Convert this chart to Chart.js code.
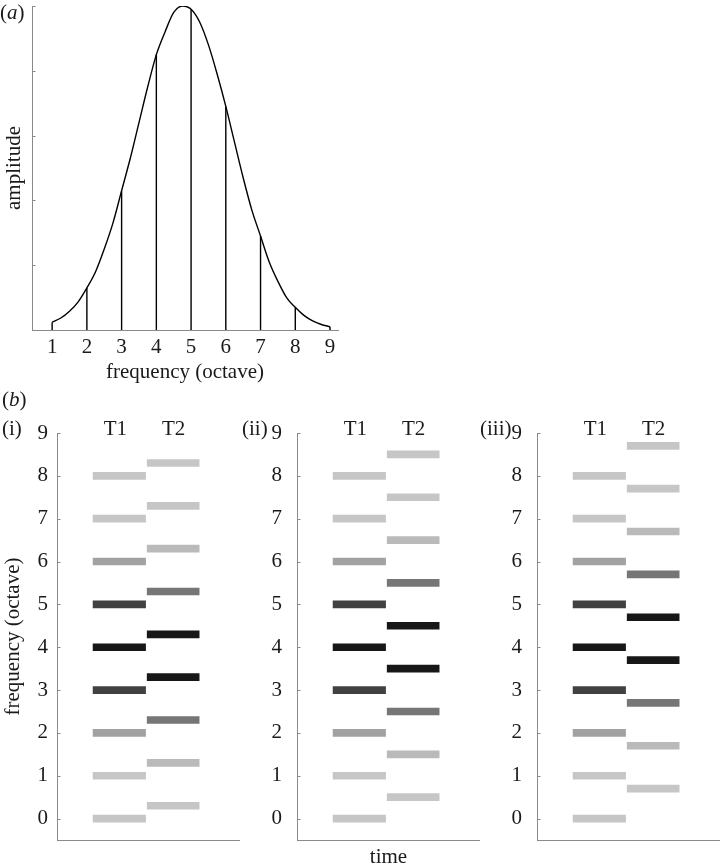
<!DOCTYPE html>
<html>
<head>
<meta charset="utf-8">
<script src="https://cdn.jsdelivr.net/npm/chart.js@4.4.1/dist/chart.umd.min.js"></script>
<style>
  body { margin: 0; background: #fff; }
  #wrap { position: relative; width: 720px; height: 868px; font-family: 'Liberation Serif', serif; color: #1a1a1a; }
  #wrap canvas { position: absolute; }
  .tag { position: absolute; font-size: 21px; line-height: 24px; white-space: nowrap; }
</style>
</head>
<body>
<div id="wrap">
  <canvas id="envelope" width="345" height="392" style="left:0;top:0"></canvas>
  <canvas id="panel1" width="240" height="468" style="left:0;top:400px"></canvas>
  <canvas id="panel2" width="240" height="468" style="left:240px;top:400px"></canvas>
  <canvas id="panel3" width="240" height="468" style="left:480px;top:400px"></canvas>
  <div class="tag" style="left:0;top:0">(<i>a</i>)</div>
  <div class="tag" style="left:2px;top:387px">(<i>b</i>)</div>
  <div class="tag" style="left:2px;top:416px">(i)</div>
  <div class="tag" style="left:242px;top:416px">(ii)</div>
  <div class="tag" style="left:480px;top:416px">(iii)</div>
</div>
<script>
// (a) spectral envelope
var curveFreq = [1, 1.25, 1.5, 1.75, 2, 2.25, 2.5, 2.75, 3, 3.25, 3.5, 3.75, 4, 4.25, 4.5, 4.75, 5,
                 5.25, 5.5, 5.75, 6, 6.25, 6.5, 6.75, 7, 7.25, 7.5, 7.75, 8, 8.25, 8.5, 8.75, 9];
var curveAmp = [0.024, 0.037, 0.058, 0.087, 0.13, 0.18, 0.25, 0.33, 0.43, 0.53, 0.64, 0.75, 0.85,
                0.92, 0.98, 1.0, 0.99, 0.95, 0.88, 0.79, 0.69, 0.58, 0.47, 0.37, 0.29, 0.21, 0.15,
                0.10, 0.07, 0.045, 0.028, 0.017, 0.01];
var stemFreq = [1, 2, 3, 4, 5, 6, 7, 8, 9];
var stemAmp = [0.024, 0.13, 0.43, 0.85, 0.99, 0.69, 0.29, 0.07, 0.01];
var freqTicks = [1, 2, 3, 4, 5, 6, 7, 8, 9];
var ampTicks = [0, 0.2, 0.4, 0.6, 0.8, 1];

// (b) tone components at T1 and T2 (octave)
var slotLabels = ['T1', 'T2'];
var t1Freq = [0, 1, 2, 3, 4, 5, 6, 7, 8];
var t2FreqI = [0.3, 1.3, 2.3, 3.3, 4.3, 5.3, 6.3, 7.3, 8.3];
var t2FreqII = [0.5, 1.5, 2.5, 3.5, 4.5, 5.5, 6.5, 7.5, 8.5];
var t2FreqIII = [0.7, 1.7, 2.7, 3.7, 4.7, 5.7, 6.7, 7.7, 8.7];
var octaveTicks = [0, 1, 2, 3, 4, 5, 6, 7, 8, 9];

// styles
var light = '#c6c6c6', light2 = '#bababa', mid = '#a2a2a2', midDark = '#767676', dark = '#414141', black = '#171717';
var t1Shade = [light, light, mid, dark, black, dark, mid, light, light];
var t2Shade = [light, light2, midDark, black, black, midDark, light2, light, light];
var slotSpan = [[0.68, 1.67], [1.7, 2.68]];
var slotLabelX = [1.1, 2.2];
var axisGrey = '#8a8a8a';
var ink = '#1a1a1a';

Chart.defaults.font.family = "'Liberation Serif', serif";
Chart.defaults.font.size = 21;
Chart.defaults.color = ink;

// short tick marks drawn inside the plot, like the original
var inwardTicks = {
    id: 'inwardTicks',
    afterDraw: function(chart) {
        var y = chart.scales.y, ctx = chart.ctx;
        ctx.save();
        ctx.strokeStyle = axisGrey;
        ctx.lineWidth = 1;
        y.ticks.forEach(function(t) {
            var py = Math.round(y.getPixelForValue(t.value)) + 0.5;
            ctx.beginPath();
            ctx.moveTo(y.right, py);
            ctx.lineTo(y.right + 3.5, py);
            ctx.stroke();
        });
        ctx.restore();
    }
};

var slotTitles = {
    id: 'slotTitles',
    afterDraw: function(chart) {
        var x = chart.scales.x, ctx = chart.ctx;
        ctx.save();
        ctx.fillStyle = ink;
        ctx.font = "21px 'Liberation Serif', serif";
        ctx.textAlign = 'center';
        ctx.textBaseline = 'middle';
        slotLabels.forEach(function(lab, i) {
            ctx.fillText(lab, x.getPixelForValue(slotLabelX[i]), chart.chartArea.top - 4);
        });
        ctx.restore();
    }
};

function fixTicks(values) {
    return function(scale) {
        scale.ticks = values.map(function(v) { return { value: v }; });
    };
}

// ---- (a)
var stemPoints = [];
stemFreq.forEach(function(f, i) {
    stemPoints.push({ x: f, y: 0 }, { x: f, y: stemAmp[i] }, { x: f, y: null });
});

new Chart(document.getElementById('envelope'), {
    type: 'line',
    data: {
        datasets: [{
            data: curveFreq.map(function(f, i) { return { x: f, y: curveAmp[i] }; }),
            borderColor: '#000',
            borderWidth: 1.4,
            pointRadius: 0,
            tension: 0.4,
            cubicInterpolationMode: 'monotone'
        }, {
            data: stemPoints,
            borderColor: '#000',
            borderWidth: 1.4,
            pointRadius: 0,
            spanGaps: false
        }]
    },
    options: {
        responsive: false,
        animation: false,
        layout: { padding: { top: 6, right: 7, left: 0, bottom: 0 } },
        plugins: { legend: { display: false }, tooltip: { enabled: false } },
        scales: {
            x: {
                type: 'linear', min: 0.42, max: 9.23,
                afterBuildTicks: fixTicks(freqTicks),
                afterFit: function(s) { s.height = 62; },
                grid: { display: false, drawTicks: false },
                border: { color: axisGrey, width: 1 },
                ticks: { padding: 5, maxRotation: 0 },
                title: { display: true, text: 'frequency (octave)', padding: { top: 0, bottom: 7 } }
            },
            y: {
                type: 'linear', min: 0, max: 1,
                afterBuildTicks: fixTicks(ampTicks),
                afterFit: function(s) { s.width = 32; },
                grid: { display: false, drawTicks: false },
                border: { color: axisGrey, width: 1 },
                ticks: { display: false },
                title: { display: true, text: 'amplitude', padding: { top: 2, bottom: 0 } }
            }
        }
    },
    plugins: [inwardTicks]
});

// ---- (b)
function toneRows(freqs, span) {
    return freqs.map(function(f) { return { x: span, y: f }; });
}

function drawPanel(id, t2Freq, opts) {
    new Chart(document.getElementById(id), {
        type: 'bar',
        data: {
            datasets: [{
                label: slotLabels[0],
                data: toneRows(t1Freq, slotSpan[0]),
                backgroundColor: t1Shade
            }, {
                label: slotLabels[1],
                data: toneRows(t2Freq, slotSpan[1]),
                backgroundColor: t2Shade
            }]
        },
        options: {
            indexAxis: 'y',
            responsive: false,
            animation: false,
            grouped: false,
            barThickness: 7,
            borderWidth: 0,
            borderSkipped: false,
            layout: { padding: { top: 33, right: 0, left: 0, bottom: 0 } },
            plugins: { legend: { display: false }, tooltip: { enabled: false } },
            scales: {
                x: {
                    type: 'linear', min: 0, max: 3.45,
                    afterFit: function(s) { s.height = 28; },
                    grid: { display: false, drawTicks: false },
                    border: { color: axisGrey, width: 1 },
                    ticks: { display: false },
                    title: { display: !!opts.xTitle, text: opts.xTitle || '', padding: { top: 0, bottom: -2 } }
                },
                y: {
                    type: 'linear', min: -0.5, max: 9, offset: false,
                    afterBuildTicks: fixTicks(octaveTicks),
                    afterFit: function(s) { s.width = 57; },
                    grid: { display: false, drawTicks: false },
                    border: { color: axisGrey, width: 1 },
                    ticks: { padding: opts.tickPad, autoSkip: false },
                    title: { display: !!opts.yTitle, text: opts.yTitle || '', padding: { top: 1, bottom: 0 } }
                }
            }
        },
        plugins: [inwardTicks, slotTitles]
    });
}

drawPanel('panel1', t2FreqI, { tickPad: 9, yTitle: 'frequency (octave)' });
drawPanel('panel2', t2FreqII, { tickPad: 15, xTitle: 'time' });
drawPanel('panel3', t2FreqIII, { tickPad: 15 });
</script>
</body>
</html>
